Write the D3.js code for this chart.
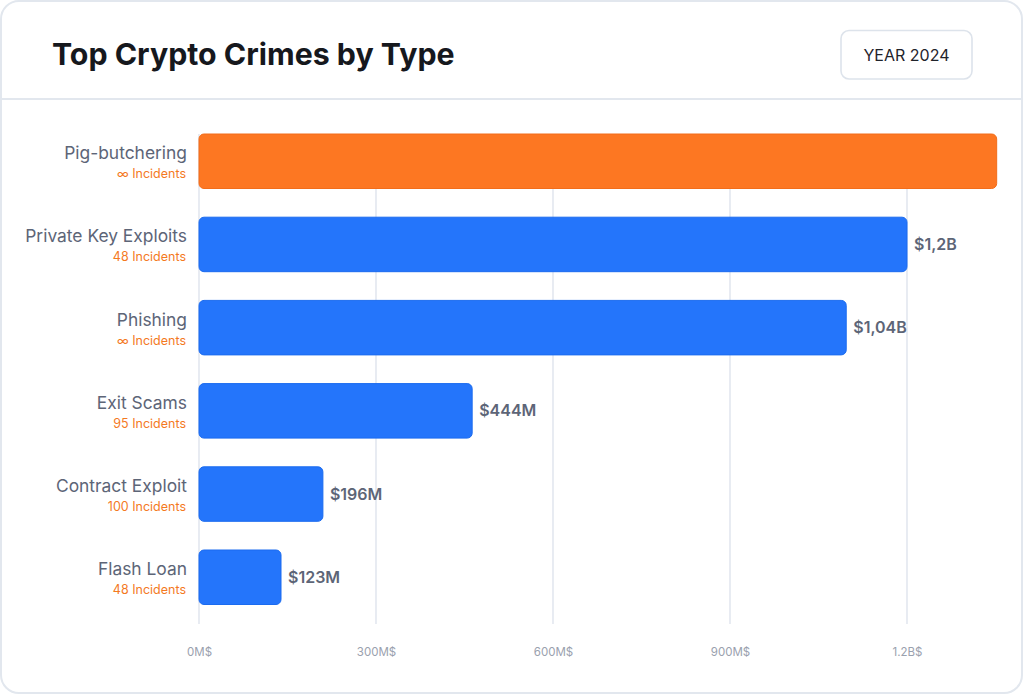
<!DOCTYPE html>
<html>
<head>
<meta charset="utf-8">
<script src="https://cdn.jsdelivr.net/npm/d3@7"></script>
<style>
  html, body { margin: 0; padding: 0; background: #ffffff; }
  svg { display: block; }
</style>
</head>
<body>
<svg id="chart" width="1024" height="695"></svg>
<script>
const categories = ["Pig-butchering", "Private Key Exploits", "Phishing", "Exit Scams", "Contract Exploit", "Flash Loan"];
const values = [1352, 1200, 1097, 463, 210, 139]; // millions USD (bar lengths)
const valueLabels = ["", "$1,2B", "$1,04B", "$444M", "$196M", "$123M"];
const incidents = ["∞ Incidents", "48 Incidents", "∞ Incidents", "95 Incidents", "100 Incidents", "48 Incidents"];
const tickValues = [0, 300, 600, 900, 1200];
const tickLabels = ["0M$", "300M$", "600M$", "900M$", "1.2B$"];
const highlight = ["Pig-butchering"];

const W = 1024, H = 695;
const font = "Inter, 'DejaVu Sans', sans-serif";
const svg = d3.select("#chart");

// card
svg.append("rect").attr("x", 1).attr("y", 1).attr("width", W - 3).attr("height", H - 3)
  .attr("rx", 18).attr("fill", "#fff").attr("stroke", "#e2e7ee").attr("stroke-width", 2);
svg.append("line").attr("x1", 2).attr("x2", W - 3).attr("y1", 99).attr("y2", 99)
  .attr("stroke", "#e2e7ee").attr("stroke-width", 2);

svg.append("text").attr("x", 52).attr("y", 65).text("Top Crypto Crimes by Type")
  .attr("font-family", font).attr("font-weight", 700).attr("font-size", 30.3).attr("fill", "#16181d");

svg.append("rect").attr("x", 841).attr("y", 30.5).attr("width", 131).attr("height", 48.5)
  .attr("rx", 8).attr("fill", "#fff").attr("stroke", "#dde3eb").attr("stroke-width", 1.6);
svg.append("text").attr("x", 906.5).attr("y", 61).attr("text-anchor", "middle").text("YEAR 2024")
  .attr("font-family", font).attr("font-size", 16).attr("fill", "#1f232b");

const x = d3.scaleLinear().domain([0, 1500]).range([199, 199 + 177 / 300 * 1500]);
const y = d3.scaleBand().domain(categories)
  .range([134, 134 + 83.2 * (categories.length - 1) + 54.5])
  .paddingInner(1 - 54.5 / 83.2).paddingOuter(0);

// gridlines
svg.append("g").selectAll("line").data(tickValues).join("line")
  .attr("x1", d => x(d)).attr("x2", d => x(d))
  .attr("y1", 134).attr("y2", 624)
  .attr("stroke", "#e3e7ef").attr("stroke-width", 1.6);

// axis tick labels
const axis = d3.axisBottom(x).tickValues(tickValues).tickFormat((d, i) => tickLabels[i]).tickSize(0).tickPadding(0);
const ax = svg.append("g").attr("transform", "translate(0,647.5)").call(axis);
ax.select(".domain").remove();
ax.selectAll("text").attr("font-family", font).attr("font-size", 11.5).attr("fill", "#9aa1ae").attr("dy", "0.75em");

const barH = y.bandwidth();
const yPos = d => y(d);

// bars
svg.selectAll("rect.bar").data(categories).join("rect")
  .attr("class", "bar")
  .attr("x", x(0)).attr("y", d => yPos(d))
  .attr("width", (d, i) => x(values[i]) - x(0))
  .attr("height", barH).attr("rx", 5)
  .attr("fill", d => highlight.includes(d) ? "#fd7722" : "#2475fb")
  .attr("stroke", d => highlight.includes(d) ? "#f26d1a" : "#1b6bef").attr("stroke-width", 1);

// category labels
svg.selectAll("text.cat").data(categories).join("text")
  .attr("x", 187).attr("y", d => yPos(d) + barH / 2 - 2)
  .attr("text-anchor", "end").text(d => d)
  .attr("font-family", font).attr("font-weight", 400).attr("font-size", 17.4).attr("fill", "#5d6577");
svg.selectAll("text.inc").data(categories).join("text")
  .attr("x", 186).attr("y", (d, i) => yPos(d) + barH / 2 + 17)
  .attr("text-anchor", "end").text((d, i) => incidents[i])
  .attr("font-family", font).attr("font-size", 12.5).attr("fill", "#f47a1f");

// value labels
svg.selectAll("text.val").data(categories).join("text")
  .attr("x", (d, i) => x(values[i]) + 7).attr("y", d => yPos(d) + barH / 2 + 5.5)
  .text((d, i) => valueLabels[i])
  .attr("font-family", font).attr("font-weight", 600).attr("font-size", 16).attr("fill", "#5d6577");
</script>
</body>
</html>
